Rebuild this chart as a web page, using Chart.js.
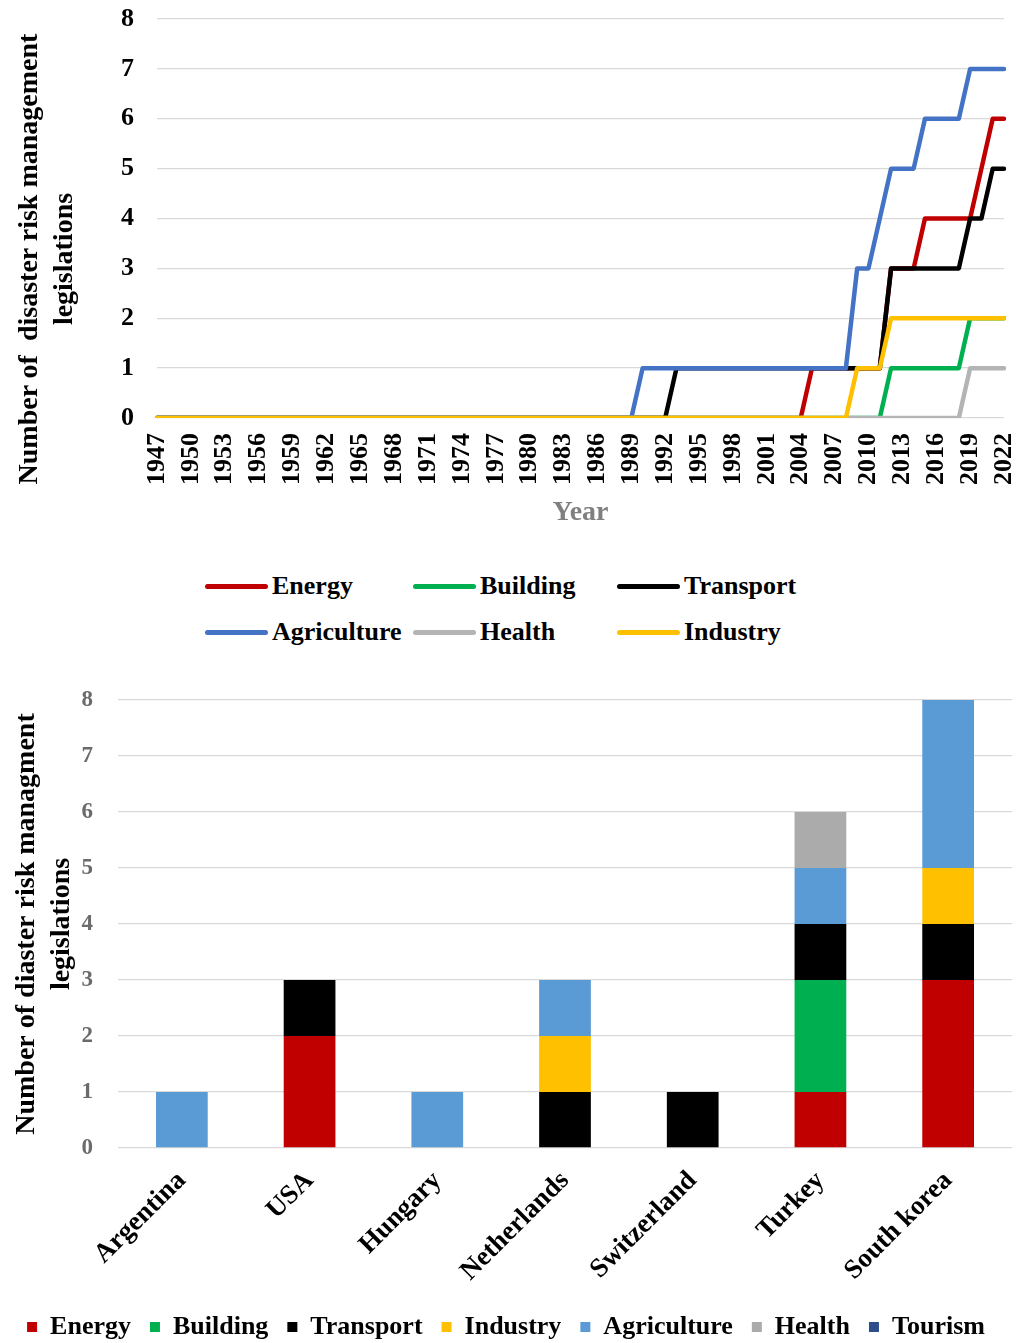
<!DOCTYPE html>
<html>
<head>
<meta charset="utf-8">
<title>Disaster risk management legislations</title>
<script src="https://cdn.jsdelivr.net/npm/chart.js@4.4.1/dist/chart.umd.min.js"></script>
<style>
  html, body { margin: 0; padding: 0; background: #fff; }
  body { width: 1017px; height: 1343px; position: relative; overflow: hidden;
         font-family: "Liberation Serif", "Times New Roman", serif; }
  #lineWrap { position: absolute; left: 0; top: 0; width: 1017px; height: 540px; }
  #barWrap { position: absolute; left: 0; top: 660px; width: 1017px; height: 690px; }
  .ytitle { position: absolute; font-weight: bold; font-size: 28px; line-height: 35px;
            text-align: center; color: #000; white-space: nowrap;
            transform: rotate(-90deg); transform-origin: 50% 50%; }
  .lg { position: absolute; display: flex; align-items: center; height: 34px;
        font-weight: bold; font-size: 26px; color: #000; white-space: nowrap; }
  .lg i { display: inline-block; width: 63px; height: 5px; border-radius: 3px; margin-right: 4px; }
</style>
</head>
<body>
<div id="lineWrap"><canvas id="lineChart" width="1017" height="540"></canvas></div>
<div class="ytitle" id="lineYTitle" style="left:-205px; top:224px; width:500px; height:70px;">Number of&nbsp; disaster risk management<br>legislations</div>
<div id="lineLegend"></div>
<div id="barWrap"><canvas id="barChart" width="1017" height="690"></canvas></div>
<script>
// ---- Legislations per sector, cumulative by year ----
const years = [
  '1947','1948','1949','1950','1951','1952','1953','1954','1955','1956',
  '1957','1958','1959','1960','1961','1962','1963','1964','1965','1966',
  '1967','1968','1969','1970','1971','1972','1973','1974','1975','1976',
  '1977','1978','1979','1980','1981','1982','1983','1984','1985','1986',
  '1987','1988','1989','1990','1991','1992','1993','1994','1995','1996',
  '1997','1998','1999','2000','2001','2002','2003','2004','2005','2006',
  '2007','2008','2009','2010','2011','2012','2013','2014','2015','2016',
  '2017','2018','2019','2020','2021','2022'
];
const yearTicks = [
  '1947','1950','1953','1956','1959','1962','1965','1968','1971','1974','1977','1980','1983',
  '1986','1989','1992','1995','1998','2001','2004','2007','2010','2013','2016','2019','2022'
];
const energyByYear = [
  0,0,0,0,0,0,0,0,0,0, 0,0,0,0,0,0,0,0,0,0, 0,0,0,0,0,0,0,0,0,0, 0,0,0,0,0,0,0,0,0,0,
  0,0,0,0,0,0,0,0,0,0, 0,0,0,0,0,0,0,0,1,1, 1,1,1,1,1,3,3,3,4,4, 4,4,4,5,6,6
];
const buildingByYear = [
  0,0,0,0,0,0,0,0,0,0, 0,0,0,0,0,0,0,0,0,0, 0,0,0,0,0,0,0,0,0,0, 0,0,0,0,0,0,0,0,0,0,
  0,0,0,0,0,0,0,0,0,0, 0,0,0,0,0,0,0,0,0,0, 0,0,0,0,0,1,1,1,1,1, 1,1,2,2,2,2
];
const transportByYear = [
  0,0,0,0,0,0,0,0,0,0, 0,0,0,0,0,0,0,0,0,0, 0,0,0,0,0,0,0,0,0,0, 0,0,0,0,0,0,0,0,0,0,
  0,0,0,0,0,0,1,1,1,1, 1,1,1,1,1,1,1,1,1,1, 1,1,1,1,1,3,3,3,3,3, 3,3,4,4,5,5
];
const agricultureByYear = [
  0,0,0,0,0,0,0,0,0,0, 0,0,0,0,0,0,0,0,0,0, 0,0,0,0,0,0,0,0,0,0, 0,0,0,0,0,0,0,0,0,0,
  0,0,0,1,1,1,1,1,1,1, 1,1,1,1,1,1,1,1,1,1, 1,1,3,3,4,5,5,5,6,6, 6,6,7,7,7,7
];
const healthByYear = [
  0,0,0,0,0,0,0,0,0,0, 0,0,0,0,0,0,0,0,0,0, 0,0,0,0,0,0,0,0,0,0, 0,0,0,0,0,0,0,0,0,0,
  0,0,0,0,0,0,0,0,0,0, 0,0,0,0,0,0,0,0,0,0, 0,0,0,0,0,0,0,0,0,0, 0,0,1,1,1,1
];
const industryByYear = [
  0,0,0,0,0,0,0,0,0,0, 0,0,0,0,0,0,0,0,0,0, 0,0,0,0,0,0,0,0,0,0, 0,0,0,0,0,0,0,0,0,0,
  0,0,0,0,0,0,0,0,0,0, 0,0,0,0,0,0,0,0,0,0, 0,0,1,1,1,2,2,2,2,2, 2,2,2,2,2,2
];
const lineSectors = ['Energy', 'Building', 'Transport', 'Agriculture', 'Health', 'Industry'];
const lineSeries = [energyByYear, buildingByYear, transportByYear, agricultureByYear, healthByYear, industryByYear];
const lineColors = ['#C00000', '#00B050', '#000000', '#4472C4', '#B4B4B4', '#FFC000'];
const countTicks = [0, 1, 2, 3, 4, 5, 6, 7, 8];

// ---- Legislations per country, split by sector ----
const countries = ['Argentina', 'USA', 'Hungary', 'Netherlands', 'Switzerland', 'Turkey', 'South korea'];
const barSectors = ['Energy', 'Building', 'Transport', 'Industry', 'Agriculture', 'Health', 'Tourism'];
const energyByCountry      = [0, 2, 0, 0, 0, 1, 3];
const buildingByCountry    = [0, 0, 0, 0, 0, 2, 0];
const transportByCountry   = [0, 1, 0, 1, 1, 1, 1];
const industryByCountry    = [0, 0, 0, 1, 0, 0, 1];
const agricultureByCountry = [1, 0, 1, 1, 0, 1, 3];
const healthByCountry      = [0, 0, 0, 0, 0, 1, 0];
const tourismByCountry     = [0, 0, 0, 0, 0, 0, 0];
const barSeries = [energyByCountry, buildingByCountry, transportByCountry, industryByCountry,
                   agricultureByCountry, healthByCountry, tourismByCountry];
const barColors = ['#C00000', '#00B050', '#000000', '#FFC000', '#5B9BD5', '#ABABAB', '#2E4D8C'];

const SERIF = '"Liberation Serif", "Times New Roman", serif';
Chart.defaults.font.family = SERIF;
Chart.defaults.font.weight = 'bold';
Chart.defaults.color = '#000';
const GRID = '#D9D9D9';

// ---------- line chart ----------
new Chart(document.getElementById('lineChart'), {
  type: 'line',
  data: {
    labels: years,
    datasets: lineSeries.map((vals, i) => ({
      label: lineSectors[i],
      data: vals,
      borderColor: lineColors[i],
      backgroundColor: lineColors[i],
      borderWidth: 4.5,
      pointRadius: 0,
      tension: 0,
      borderJoinStyle: 'round',
      borderCapStyle: 'round',
      fill: false,
      order: lineSeries.length - i   // later sectors drawn on top
    }))
  },
  options: {
    responsive: false,
    animation: false,
    devicePixelRatio: 1,
    layout: { padding: { top: 19, right: 13, bottom: 0, left: 0 } },
    plugins: { legend: { display: false }, tooltip: { enabled: false } },
    scales: {
      x: {
        type: 'category',
        offset: false,
        grid: { display: false },
        border: { display: false },
        ticks: {
          autoSkip: false,
          minRotation: 90,
          maxRotation: 90,
          padding: 7,
          color: '#000',
          font: { size: 26, weight: 'bold', family: SERIF },
          callback: function (value) {
            const lab = this.getLabelForValue(value);
            return yearTicks.includes(lab) ? lab : null;
          }
        },
        title: {
          display: true,
          text: 'Year',
          color: '#808080',
          font: { size: 28, weight: 'bold', family: SERIF, lineHeight: 1.2 },
          padding: { top: 0, bottom: 10 }
        },
        afterFit: (s) => { s.height = 122; s.paddingLeft = 0; s.paddingRight = 0; }
      },
      y: {
        min: 0,
        max: 8,
        afterBuildTicks: (s) => { s.ticks = countTicks.map(v => ({ value: v })); },
        grid: { color: GRID, lineWidth: 1.3, drawTicks: false },
        border: { display: false },
        ticks: {
          padding: 23,
          color: '#000',
          font: { size: 26, weight: 'bold', family: SERIF }
        },
        afterFit: (s) => { s.width = 157; s.paddingTop = 0; s.paddingBottom = 0; }
      }
    }
  }
});

// legend for the line chart: three columns, two rows
(function () {
  const holder = document.getElementById('lineLegend');
  const colX = [205, 413, 617];
  const rowY = [569, 615];
  lineSectors.forEach((name, i) => {
    const el = document.createElement('div');
    el.className = 'lg';
    el.style.left = colX[i % 3] + 'px';
    el.style.top = rowY[Math.floor(i / 3)] + 'px';
    const sw = document.createElement('i');
    sw.style.background = lineColors[i];
    el.appendChild(sw);
    el.appendChild(document.createTextNode(name));
    holder.appendChild(el);
  });
})();

// ---------- stacked bar chart ----------
new Chart(document.getElementById('barChart'), {
  type: 'bar',
  data: {
    labels: countries,
    datasets: barSeries.map((vals, i) => ({
      label: barSectors[i],
      data: vals,
      backgroundColor: barColors[i],
      borderWidth: 0,
      categoryPercentage: 1.0,
      barPercentage: 0.405
    }))
  },
  options: {
    responsive: false,
    animation: false,
    devicePixelRatio: 1,
    layout: { padding: { top: 40, right: 5, bottom: 0, left: 0 } },
    plugins: {
      tooltip: { enabled: false },
      legend: {
        position: 'bottom',
        labels: {
          boxWidth: 10,
          boxHeight: 10,
          padding: 19,
          color: '#000',
          font: { size: 26, weight: 'bold', family: SERIF }
        }
      }
    },
    scales: {
      x: {
        stacked: true,
        grid: { display: false },
        border: { display: false },
        ticks: {
          autoSkip: false,
          minRotation: 45,
          maxRotation: 45,
          padding: 9,
          color: '#000',
          font: { size: 27, weight: 'bold', family: SERIF }
        },
        afterFit: (s) => { s.height = 147; }
      },
      y: {
        stacked: true,
        min: 0,
        max: 8,
        afterBuildTicks: (s) => { s.ticks = countTicks.map(v => ({ value: v })); },
        grid: { color: GRID, lineWidth: 1.3, drawTicks: false },
        border: { display: false },
        ticks: {
          padding: 25,
          color: '#6B6B6B',
          font: { size: 23, weight: 'bold', family: SERIF }
        },
        title: {
          display: true,
          text: ['Number of diaster risk managment', 'legislations'],
          color: '#000',
          font: { size: 28, weight: 'bold', family: SERIF, lineHeight: 1.25 },
          padding: { top: 9.5, bottom: 0 }
        },
        afterFit: (s) => { s.width = 118; }
      }
    }
  }
});
</script>
</body>
</html>
